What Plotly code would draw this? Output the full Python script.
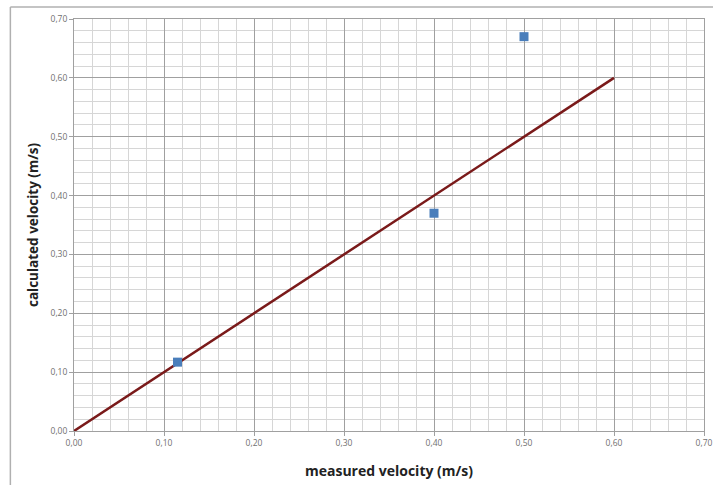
import plotly.graph_objects as go

measured = [0.115, 0.40, 0.50]
calculated = [0.117, 0.37, 0.67]
line_x = [0.0, 0.60]
line_y = [0.0, 0.60]
tick_vals = [0.0, 0.1, 0.2, 0.3, 0.4, 0.5, 0.6, 0.7]
tick_text = ["0,00", "0,10", "0,20", "0,30", "0,40", "0,50", "0,60", "0,70"]

fig = go.Figure()
fig.add_trace(go.Scatter(x=line_x, y=line_y, mode="lines",
                         line=dict(color="#7a1a1a", width=2.5), showlegend=False))
fig.add_trace(go.Scatter(x=measured, y=calculated, mode="markers",
                         marker=dict(symbol="square", size=9, color="#4a7ebb"),
                         showlegend=False))

axis_common = dict(
    range=[0, 0.7], tickvals=tick_vals, ticktext=tick_text,
    showgrid=True, gridcolor="#a0a0a0", gridwidth=1,
    minor=dict(dtick=0.02, showgrid=True, gridcolor="#d6d6d6", gridwidth=1),
    showline=True, linecolor="#a0a0a0", linewidth=1, mirror=True,
    ticks="outside", ticklen=4, tickcolor="#a0a0a0",
    tickfont=dict(family="Open Sans", size=8.5, color="#707070"),
    zeroline=False, fixedrange=True, automargin=False,
)

fig.update_xaxes(**axis_common, title=dict(text="<b>measured velocity (m/s)</b>",
                 font=dict(family="Open Sans", size=14, color="#222222"), standoff=18))
fig.update_yaxes(**axis_common, title=dict(text="<b>calculated velocity (m/s)</b>",
                 font=dict(family="Open Sans", size=13.5, color="#222222"), standoff=8))

fig.add_shape(type="line", xref="paper", yref="paper", x0=-0.101, x1=1.02, y0=1.029, y1=1.029,
              line=dict(color="#b0b0b0", width=1.5))
fig.add_shape(type="line", xref="paper", yref="paper", x0=-0.101, x1=-0.101, y0=1.029, y1=-0.14,
              line=dict(color="#b0b0b0", width=1.5))

fig.update_layout(
    width=713, height=485,
    margin=dict(l=74, r=9, t=19, b=54),
    paper_bgcolor="white", plot_bgcolor="white",
)

fig.write_html("out.html", config={"displayModeBar": False},
               post_script="document.body.style.margin='0';document.body.style.overflow='hidden';")
